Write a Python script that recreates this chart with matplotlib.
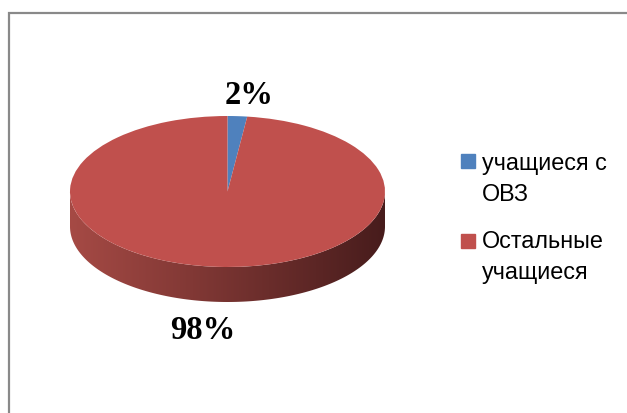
import numpy as np
import matplotlib
matplotlib.use('Agg')
from matplotlib import pyplot as plt
from matplotlib.patches import Polygon, Rectangle

labels = ['учащиеся с\nОВЗ', 'Остальные\nучащиеся']
values = [2, 98]
colors = ['#4F81BD', '#C0504D']
pct_text = ['2%', '98%']

W, H = 627, 414


def fx(px):
    return px / W


def fy(py):
    return 1 - py / H


fig = plt.figure(figsize=(W / 100, H / 100), dpi=100)

# gray chart frame (only left and top edges visible)
fig.add_artist(Rectangle((fx(9), -0.1), 1.2, fy(14) + 0.1, transform=fig.transFigure,
                         fill=False, edgecolor='#898989', linewidth=1.6))

# pie: top face ellipse + extruded side
depth = 35 / 75.5
ax = fig.add_axes([fx(70), fy(303), fx(385) - fx(70), fy(117) - fy(303)])
wedges, _ = ax.pie(values, colors=colors, startangle=90, counterclock=False,
                   radius=1, wedgeprops=dict(linewidth=0))
for w in wedges:
    w.set_zorder(3)
    w.set_clip_on(False)
ax.set_aspect('auto')
ax.axis('off')

t = np.linspace(np.pi, 2 * np.pi, 200)
top = np.column_stack([np.cos(t), np.sin(t)])
bottom = np.column_stack([np.cos(t[::-1]), np.sin(t[::-1]) - depth])
side = Polygon(np.vstack([top, bottom]), closed=True, facecolor='none',
               edgecolor='none', transform=ax.transData)
ax.add_patch(side)

left_c = np.array([0.65, 0.29, 0.27])
right_c = np.array([0.28, 0.11, 0.11])
k = np.linspace(0, 1, 256)[:, None]
grad = (left_c * (1 - k) + right_c * k)[None, :, :]
im = ax.imshow(grad, extent=[-1, 1, -1 - depth, 0], aspect='auto',
               interpolation='bilinear', zorder=2)
im.set_clip_path(side)
ax.set_xlim(-1, 1)
ax.set_ylim(-1 - depth, 1)

# data labels
lab_font = dict(family='Liberation Serif', weight='bold', fontsize=23.5,
                ha='center', va='center')
fig.text(fx(249), fy(95), pct_text[0], **lab_font)
fig.text(fx(203), fy(331), pct_text[1], **lab_font)

# legend
leg_tops = [152, 230]
sq_tops = [155, 235]
for lab, col, ty, sy in zip(labels, colors, leg_tops, sq_tops):
    fig.add_artist(Rectangle((fx(461), fy(sy + 14)), fx(14), 14 / H,
                             transform=fig.transFigure, color=col))
    fig.text(fx(482), fy(ty), lab, family='Liberation Sans', fontsize=16.8,
             ha='left', va='top', linespacing=1.45, color='#000000')

fig.savefig('out.png', dpi=100)
